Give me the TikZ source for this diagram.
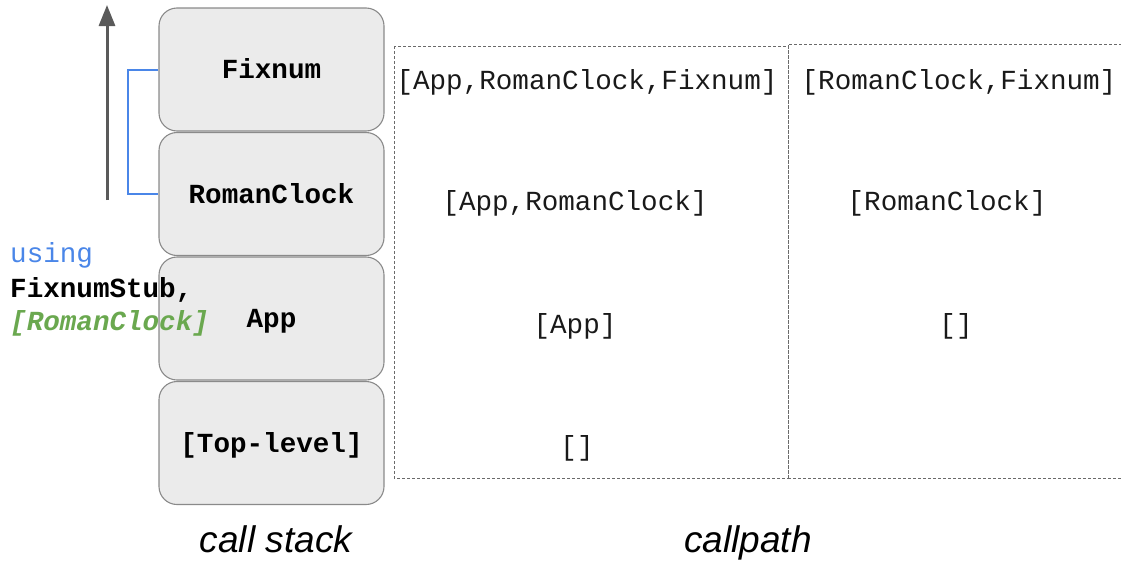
\documentclass[tikz,border=0pt]{standalone}
\usepackage{fontspec}
\setmainfont{Liberation Sans}
\setmonofont{Liberation Mono}
\usetikzlibrary{arrows.meta}

\definecolor{framefill}{HTML}{EBEBEB}
\definecolor{frameedge}{HTML}{8A8A8A}
\definecolor{usingblue}{HTML}{4A86E8}
\definecolor{stubgreen}{HTML}{6AA84F}
\definecolor{arrowgray}{HTML}{5A5A5A}
\definecolor{dashgray}{HTML}{6A6A6A}

\newcommand{\codesize}{\fontsize{27.6}{33}\selectfont}
\newcommand{\captionsize}{\fontsize{37}{44}\selectfont}

\tikzset{
  frame/.style={draw=frameedge, line width=1.1pt, fill=framefill,
    rounded corners=18pt, minimum width=225pt, minimum height=123pt,
    inner sep=0pt, font=\ttfamily\bfseries\codesize,
    text height=18pt, text depth=0pt},
  pathtext/.style={anchor=base, inner sep=0pt, font=\ttfamily\codesize, text=black!90},
  sidetext/.style={anchor=base west, inner sep=0pt, font=\ttfamily\codesize},
  captiontext/.style={anchor=base, inner sep=0pt, font=\itshape\captionsize},
  pathbox/.style={draw=dashgray, line width=0.8pt, dash pattern=on 3pt off 2pt},
}

\begin{document}
\begin{tikzpicture}[x=1pt, y=-1pt]
  \useasboundingbox (0,0) rectangle (1121,565);

  % call stack frames, bottom to top
  \node[frame] (top)   at (271.5,443)   {[Top-level]};
  \node[frame] (app)   at (271.5,318.5) {App};
  \node[frame] (rc)    at (271.5,194)   {RomanClock};
  \node[frame] (fix)   at (271.5,69.5)  {Fixnum};

  % growth direction of the stack
  \coordinate (growfrom) at (107,200);
  \coordinate (growto)   at (107,5);
  \draw[arrowgray, line width=3pt, -{Triangle[length=21pt, width=16pt]}] (growfrom) -- (growto);

  % refinement scope bracket
  \draw[usingblue, line width=2pt] (fix.west) -- ++(-30,0) |- (rc.west);

  % refinement activation text
  \node[sidetext, text=usingblue] (using) at (10,262) {using};
  \node[sidetext, font=\ttfamily\bfseries\codesize, text=black] (stub) at (10,297) {FixnumStub,};
  \node[sidetext, font=\ttfamily\bfseries\itshape\codesize, text=stubgreen] (scope) at (10,330) {[RomanClock]};

  % callpath columns
  \draw[pathbox] (394,46) rectangle (788,478);
  \draw[pathbox] (788,478) -- (788,44) -- (1121,44);
  \draw[pathbox] (788,478) -- (1121,478);

  \node[pathtext] (p1a) at (587,89)  {[App,RomanClock,Fixnum]};
  \node[pathtext] (p2a) at (575,210) {[App,RomanClock]};
  \node[pathtext] (p3a) at (575,333) {[App]};
  \node[pathtext] (p4a) at (577,455) {[]};

  \node[pathtext] (p1b) at (959,89)  {[RomanClock,Fixnum]};
  \node[pathtext] (p2b) at (947,210) {[RomanClock]};
  \node[pathtext] (p3b) at (956,333) {[]};

  % captions
  \node[captiontext] (cs) at (276,552) {call stack};
  \node[captiontext] (cp) at (748,552) {callpath};
\end{tikzpicture}
\end{document}
